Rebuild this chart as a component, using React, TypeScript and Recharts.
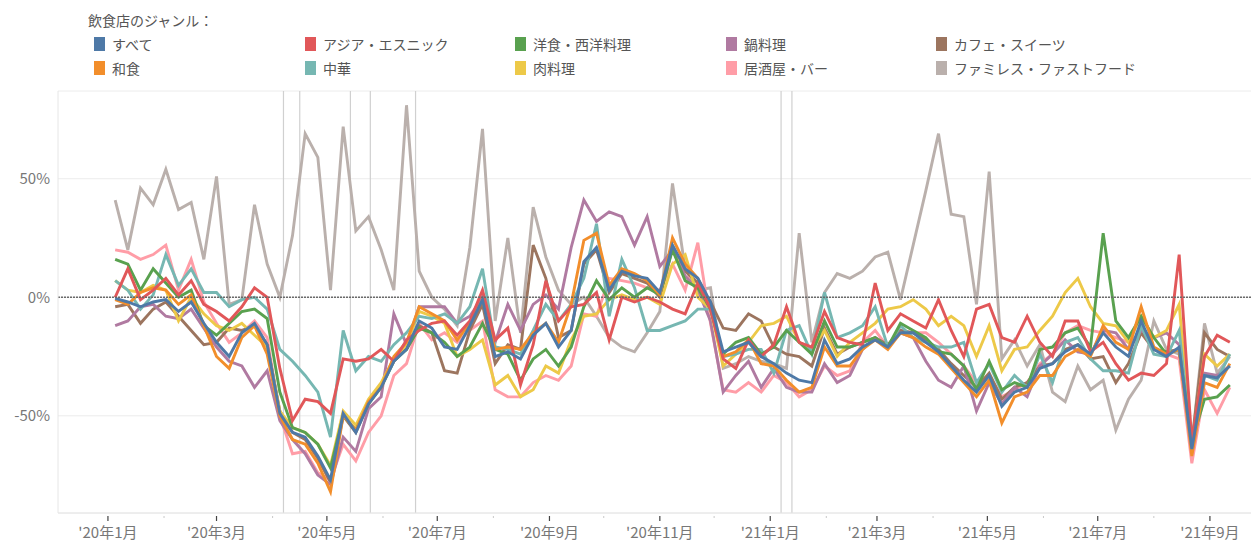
import React from "react";
import {
  CartesianGrid,
  Line,
  LineChart,
  ReferenceLine,
  XAxis,
  YAxis,
} from "recharts";

// days since 2020-01-01; weekly points start on 2020-01-05
const FIRST_WEEK_DAY = 4;

const all = [
  -0.5, -2, -4, -2, -1, -6, -2, -11, -19, -25, -15, -11, -20,
  -49, -57, -59, -67, -77, -49, -57, -45, -38, -27, -22, -10, -13,
  -21, -22, -12, -1, -25, -23, -26, -16, -11, -21, -14, 15, 21,
  3, 11, 9, 8, 2, 22, 12, 8, -2, -23, -21, -19, -25,
  -28, -32, -35, -36, -18, -28, -26, -21, -18, -21, -15, -15, -19,
  -23, -29, -35, -40, -33, -46, -40, -38, -30, -28, -23, -20, -24,
  -15, -21, -25, -10, -22, -25, -21, -64, -33, -34, -29,
];
const washoku = [
  -1, -3, 2, 4, 3, -3, 1, -12, -25, -30, -17, -12, -24,
  -50, -60, -62, -70, -82, -50, -56, -44, -38, -25, -19, -4, -7,
  -10, -18, -11, -1, -22, -21, -22, -15, -11, -19, -3, 24, 27,
  5, 12, 10, 7, 1, 25, 14, 8, -3, -25, -23, -18, -28,
  -29, -35, -40, -38, -21, -29, -29, -22, -18, -22, -15, -17, -21,
  -24, -30, -36, -42, -35, -53, -42, -40, -33, -33, -25, -22, -25,
  -12, -19, -22, -4, -21, -24, -22, -67, -36, -38, -28,
];
const asian = [
  0, 12, -1, 3, 8, 1, 7, -3, -6, -10, -4, 4, 0,
  -30, -52, -43, -44, -49, -26, -27, -26, -22, -27, -18, -14, -11,
  -10, -16, -10, 3, -18, -13, -37, -20, 7, -10, -4, -3, 2,
  -18, 0, -2, 0, -2, -5, -7, 6, -5, -26, -30, -18, -25,
  -20, -4, -19, -21, -6, -17, -19, -20, 6, -14, -7, -10, -13,
  -1, -14, -25, -5, -3, -17, -19, -8, -19, -25, -10, -10, -23,
  -19, -28, -35, -32, -33, -28, 18, -61, -25, -16, -19,
];
const chuka = [
  7, 3, -5, 1, 18, 5, 12, 2, 2, -4, -1, 0, -5,
  -22, -27, -33, -40, -59, -14, -31, -25, -27, -20, -15, -8, -9,
  -7, -11, -4, 12, -21, -22, -24, -14, -3, -10, -3, 8, 31,
  -8, 16, 4, -14, -14, -12, -10, -5, -5, -25, -24, -22, -22,
  -32, -14, -12, -24, 2, -17, -15, -12, -4, -21, -12, -17, -19,
  -21, -21, -19, -36, -28, -40, -33, -38, -24, -36, -19, -17, -26,
  -31, -31, -32, -12, -24, -25, -14, -64, -33, -35, -24,
];
const yoshoku = [
  16, 14, 3, 12, 6, 0, 3, -12, -16, -11, -6, -5, -9,
  -40, -55, -57, -62, -72, -50, -56, -45, -38, -27, -22, -13, -15,
  -19, -25, -21, -11, -22, -24, -35, -26, -22, -29, -21, -4, 7,
  -1, 4, 0, 4, 1, 20, 7, 4, -5, -24, -19, -17, -24,
  -21, -14, -19, -24, -10, -21, -21, -19, -17, -21, -11, -14, -17,
  -23, -24, -29, -39, -27, -39, -36, -38, -22, -21, -15, -13, -21,
  27, -10, -17, -8, -17, -24, -22, -61, -43, -42, -37,
];
const niku = [
  7, 3, 2, 5, 3, -10, 0, -7, -12, -14, -11, -16, -21,
  -48, -55, -57, -62, -71, -48, -54, -43, -36, -26, -20, -6, -8,
  -11, -25, -22, -18, -37, -33, -42, -39, -29, -32, -18, -8, -7,
  -1, 1, -1, 0, -3, 14, 18, 0, -5, -29, -24, -19, -12,
  -11, -8, -19, -22, -14, -25, -19, -15, -11, -5, -4, -1, -5,
  -12, -8, -12, -25, -12, -31, -22, -21, -14, -8, 2, 8, -4,
  -11, -12, -19, -8, -17, -14, -3, -63, -24, -29, -24,
];
const nabe = [
  -12, -10, -4, -3, -8, -9, -5, -13, -21, -27, -29, -38, -31,
  -52, -60, -66, -75, -79, -59, -65, -47, -42, -7, -20, -4, -4,
  -4, -11, -8, 0, -19, -3, -14, -3, 1, -5, 21, 41, 32,
  36, 34, 22, 34, 13, 20, 9, 3, -10, -40, -33, -27, -38,
  -30, -38, -40, -40, -28, -36, -33, -22, -17, -21, -15, -17, -27,
  -35, -38, -29, -48, -36, -45, -38, -42, -29, -24, -18, -23, -24,
  -14, -15, -22, -14, -17, -15, -20, -64, -32, -33, -29,
];
const izakaya = [
  20, 19, 16, 18, 22, 3, 16, -2, -11, -19, -15, -10, -17,
  -50, -66, -65, -74, -77, -62, -69, -57, -50, -33, -28, -11, -18,
  -15, -19, -14, -10, -39, -42, -42, -36, -33, -35, -29, -7, -8,
  8, 7, 6, 4, 3, 14, 3, 23, -11, -39, -40, -36, -40,
  -33, -36, -42, -39, -29, -33, -31, -19, -14, -21, -14, -15, -15,
  -19, -24, -29, -36, -33, -42, -39, -36, -28, -24, -15, -12, -14,
  -15, -17, -19, -15, -22, -24, -26, -70, -39, -49, -38,
];
const cafe = [
  -4, -3, -11, -5, -2, -8, -14, -20, -19, -13, -14, -12, -20,
  -48, -57, -60, -68, -78, -50, -57, -45, -37, -26, -22, -12, -15,
  -31, -32, -14, -3, -28, -20, -22, 22, 8, -17, -14, 14, 20,
  2, 10, 8, 6, 0, 21, 11, 6, -2, -13, -14, -7, -10,
  -21, -24, -25, -29, -13, -24, -21, -19, -17, -20, -14, -15, -18,
  -22, -28, -33, -38, -32, -43, -38, -36, -29, -28, -22, -20, -26,
  -25, -36, -28, -15, -22, -23, -22, -62, -15, -22, -25,
];
const famires = [
  41, 20, 46, 39, 54, 37, 40, 16, 51, -3, -1, 39, 14,
  0, 26, 69, 59, 3, 72, 28, 34, 20, 3, 81, 11, 0,
  -5, -12, 21, 71, -10, 25, -15, 38, 17, 3, -3, 0, -8,
  -17, -21, -23, -15, -6, 48, 12, 3, 4, -30, -28, -25, -27,
  -28, -30, 27, -19, 2, 10, 8, 11, 17, 19, -1, 22, 45,
  69, 35, 34, -3, 53, -26, -18, -29, -20, -40, -44, -29, -39,
  -35, -56, -43, -35, -10, -22, -24, -62, -11, -32, -25,
];

// month starts (days since 2020-01-01) and their labels ("" = unlabeled minor tick)
const monthDays = [
  0, 31, 60, 91, 121, 152, 182, 213, 244, 274, 305, 335,
  366, 397, 425, 456, 486, 517, 547, 578, 609,
];
const monthLabels = [
  "'20年1月", "", "'20年3月", "", "'20年5月", "", "'20年7月", "", "'20年9月", "", "'20年11月", "",
  "'21年1月", "", "'21年3月", "", "'21年5月", "", "'21年7月", "", "'21年9月",
];

// emergency-declaration related dates
const eventDays = [97, 106, 134, 145, 170, 372, 378];

const yTicks = [-50, 0, 50];

const SERIES = [
  { key: "all", name: "すべて", color: "#4e79a7", values: all },
  { key: "washoku", name: "和食", color: "#f28e2b", values: washoku },
  { key: "asian", name: "アジア・エスニック", color: "#e15759", values: asian },
  { key: "chuka", name: "中華", color: "#76b7b2", values: chuka },
  { key: "yoshoku", name: "洋食・西洋料理", color: "#59a14f", values: yoshoku },
  { key: "niku", name: "肉料理", color: "#edc948", values: niku },
  { key: "nabe", name: "鍋料理", color: "#b07aa1", values: nabe },
  { key: "izakaya", name: "居酒屋・バー", color: "#ff9da7", values: izakaya },
  { key: "cafe", name: "カフェ・スイーツ", color: "#9c755f", values: cafe },
  { key: "famires", name: "ファミレス・ファストフード", color: "#bab0ac", values: famires },
];

const DRAW_ORDER = [
  "famires", "izakaya", "cafe", "nabe", "niku", "chuka", "yoshoku", "washoku", "asian", "all",
];

const rows = all.map((_, i) => {
  const row: Record<string, number> = { t: FIRST_WEEK_DAY + 7 * i };
  SERIES.forEach((s) => {
    row[s.key] = s.values[i];
  });
  return row;
});

const FONT = "'Noto Sans CJK JP', 'Noto Sans', sans-serif";

function MonthTick(props: any) {
  const { x, y, payload } = props;
  const idx = monthDays.indexOf(payload.value);
  const label = idx >= 0 ? monthLabels[idx] : "";
  if (!label) {
    return <line x1={x} x2={x} y1={y + 3} y2={y + 5} stroke="#c8c8c8" strokeWidth={1} />;
  }
  return (
    <g>
      <line x1={x} x2={x} y1={y + 3} y2={y + 8} stroke="#444" strokeWidth={1.2} />
      <text
        x={x}
        y={y + 25}
        textAnchor="middle"
        fontSize={15}
        fill="#777"
        fontFamily={FONT}
      >
        {label}
      </text>
    </g>
  );
}

const LEGEND_COLS = [94, 305, 515, 726, 936];
const LEGEND_ROWS = [44, 68];

export default function App() {
  return (
    <div
      style={{
        position: "absolute",
        left: 0,
        top: 0,
        width: 1253,
        height: 542,
        background: "#fff",
        fontFamily: FONT,
        overflow: "hidden",
      }}
    >
      <div
        style={{
          position: "absolute",
          left: 88,
          top: 11,
          fontSize: 14,
          color: "#555",
          lineHeight: "18px",
        }}
      >
        飲食店のジャンル：
      </div>
      {SERIES.map((s, i) => {
        const col = Math.floor(i / 2);
        const row = i % 2;
        return (
          <div
            key={s.key}
            style={{
              position: "absolute",
              left: LEGEND_COLS[col],
              top: LEGEND_ROWS[row] - 9,
              height: 18,
              display: "flex",
              alignItems: "center",
              fontSize: 14,
              color: "#555",
              whiteSpace: "nowrap",
            }}
          >
            <span
              style={{
                display: "inline-block",
                width: 11,
                height: 14,
                background: s.color,
                marginRight: 7,
              }}
            />
            {s.name}
          </div>
        );
      })}
      <div style={{ position: "absolute", left: 0, top: 0 }}>
        <LineChart
          width={1253}
          height={542}
          data={rows}
          margin={{ top: 91, right: 2, bottom: 0, left: 8 }}
        >
          <CartesianGrid vertical={false} stroke="#ececec" />
          <XAxis
            dataKey="t"
            type="number"
            domain={[-27.6, 631.7]}
            allowDataOverflow
            ticks={monthDays}
            interval={0}
            height={29}
            tickLine={false}
            tickSize={0}
            tickMargin={0}
            axisLine={{ stroke: "#e6e6e6" }}
            tick={<MonthTick />}
          />
          <YAxis
            type="number"
            domain={[-91, 87]}
            allowDataOverflow
            ticks={yTicks}
            width={50}
            tickLine={false}
            tickSize={0}
            tickMargin={8}
            axisLine={{ stroke: "#e6e6e6" }}
            tickFormatter={(v: number) => `${v}%`}
            tick={{ fontSize: 15, fill: "#777", fontFamily: FONT }}
          />
          {eventDays.map((d) => (
            <ReferenceLine key={d} x={d} stroke="#d0d0d0" strokeWidth={1.2} />
          ))}
          {DRAW_ORDER.map((k) => {
            const s = SERIES.find((x) => x.key === k)!;
            return (
              <Line
                key={k}
                dataKey={k}
                name={s.name}
                stroke={s.color}
                strokeWidth={2.9}
                dot={false}
                activeDot={false}
                type="linear"
                isAnimationActive={false}
              />
            );
          })}
          <ReferenceLine y={0} stroke="#6a6a6a" strokeWidth={1.5} strokeDasharray="2 1" />
        </LineChart>
      </div>
    </div>
  );
}
